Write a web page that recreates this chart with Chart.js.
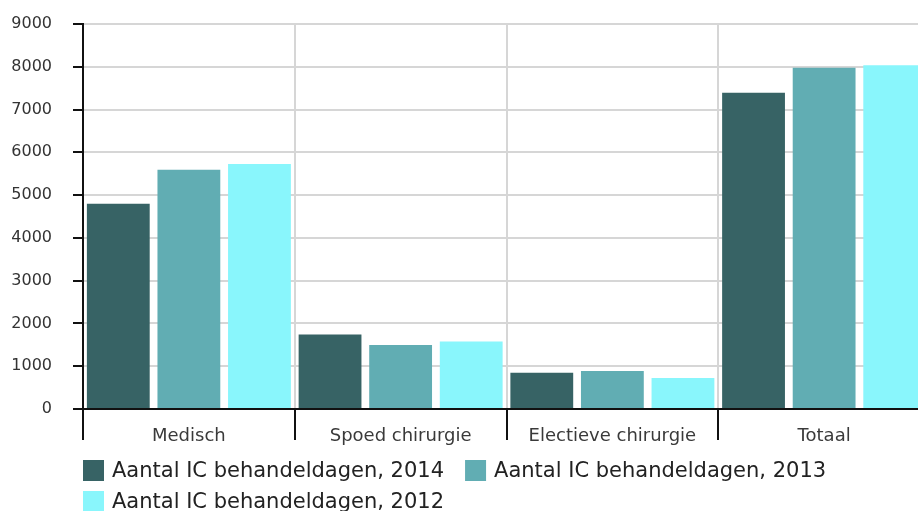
<!DOCTYPE html>
<html>
<head>
<meta charset="utf-8">
<script src="https://cdn.jsdelivr.net/npm/chart.js@4/dist/chart.umd.min.js"></script>
<style>
  html, body { margin: 0; padding: 0; background: #fff; overflow: hidden; }
  #wrap { width: 940px; height: 511px; }
</style>
</head>
<body>
<div id="wrap"><canvas id="chart" width="940" height="511"></canvas></div>
<script>
// Categories and series (IC treatment days per year)
const categories = ['Medisch', 'Spoed chirurgie', 'Electieve chirurgie', 'Totaal'];
const seriesLabels = [
  'Aantal IC behandeldagen, 2014',
  'Aantal IC behandeldagen, 2013',
  'Aantal IC behandeldagen, 2012'
];
const days2014 = [4800, 1740, 850, 7390];
const days2013 = [5590, 1495, 890, 7975];
const days2012 = [5730, 1580, 725, 8035];
const yTickValues = [0, 1000, 2000, 3000, 4000, 5000, 6000, 7000, 8000, 9000];

const seriesColors = ['#376365', '#61adb3', '#89f6fc'];
const FONT = '"DejaVu Sans", sans-serif';

// Legend laid out in wrapping rows starting at the plot's left edge
const rowLegend = {
  id: 'rowLegend',
  afterDraw(chart) {
    const ctx = chart.ctx;
    const left = chart.chartArea.left;
    const top = chart.scales.x.bottom + 11;
    const box = 21, textGap = 29, itemGap = 21, rowPitch = 31;
    const limit = window.innerWidth || 918;
    ctx.save();
    ctx.font = '21px ' + FONT;
    ctx.textBaseline = 'alphabetic';
    ctx.textAlign = 'left';
    let x = left, row = 0;
    chart.data.datasets.forEach(ds => {
      const w = textGap + ctx.measureText(ds.label).width;
      if (x > left && x + w > limit) { row++; x = left; }
      const y = top + row * rowPitch;
      ctx.fillStyle = ds.backgroundColor;
      ctx.fillRect(x, y, box, box);
      ctx.fillStyle = '#222';
      ctx.fillText(ds.label, x + textGap, y + 17);
      x += w + itemGap;
    });
    ctx.restore();
  }
};

new Chart(document.getElementById('chart'), {
  type: 'bar',
  data: {
    labels: categories,
    datasets: [
      { label: seriesLabels[0], data: days2014, backgroundColor: seriesColors[0] },
      { label: seriesLabels[1], data: days2013, backgroundColor: seriesColors[1] },
      { label: seriesLabels[2], data: days2012, backgroundColor: seriesColors[2] }
    ]
  },
  options: {
    responsive: false,
    animation: false,
    devicePixelRatio: 1,
    layout: { padding: { top: 24, right: 10, bottom: 62, left: 0 } },
    datasets: { bar: { barPercentage: 0.89, categoryPercentage: 1.0, borderWidth: 0 } },
    plugins: {
      legend: { display: false },
      tooltip: { enabled: false }
    },
    scales: {
      x: {
        grid: {
          offset: true,
          color: '#d6d6d6',
          lineWidth: 2,
          tickColor: '#111',
          tickWidth: 2,
          tickLength: 31
        },
        border: { color: '#111', width: 2 },
        ticks: {
          font: { family: FONT, size: 18 },
          color: '#3a3a3a',
          padding: -14,
          maxRotation: 0
        },
        afterFit(scale) { scale.height = 40; }
      },
      y: {
        min: 0,
        max: 9000,
        afterBuildTicks(scale) { scale.ticks = yTickValues.map(v => ({ value: v })); },
        grid: {
          color: '#d6d6d6',
          lineWidth: 2,
          tickColor: '#111',
          tickWidth: 2,
          tickLength: 10
        },
        border: { color: '#111', width: 2 },
        ticks: {
          font: { family: FONT, size: 16 },
          color: '#333',
          padding: 21,
          callback: v => String(v)
        },
        afterFit(scale) {
          scale.width = 83;
          scale.paddingTop = 0;
          scale.paddingBottom = 0;
        }
      }
    }
  },
  plugins: [rowLegend]
});
</script>
</body>
</html>
